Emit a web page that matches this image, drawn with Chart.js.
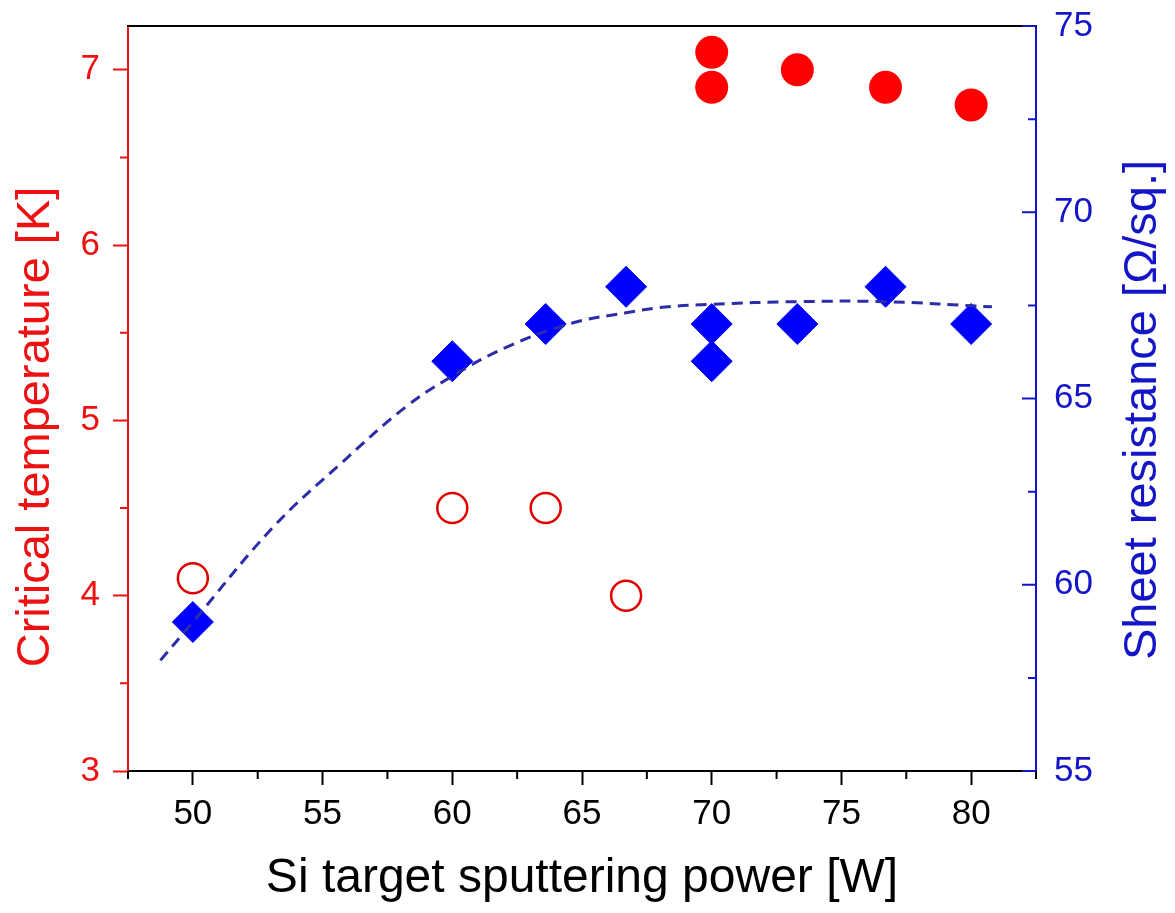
<!DOCTYPE html>
<html>
<head>
<meta charset="utf-8">
<script src="https://cdn.jsdelivr.net/npm/chart.js@4.4.1/dist/chart.umd.min.js"></script>
<style>
  html, body { margin: 0; padding: 0; background: #fff; }
  canvas { display: block; }
</style>
</head>
<body>
<canvas id="tcChart" width="1175" height="913"></canvas>
<script>
// Si target sputtering power [W]
const tcOpenPower = [50, 60, 63.6, 66.7];
const tcOpen = [4.1, 4.5, 4.5, 4.0];
const tcFilledPower = [70, 70, 73.3, 76.7, 80];
const tcFilled = [7.1, 6.9, 7.0, 6.9, 6.8];
const rsPower = [50, 60, 63.6, 66.7, 70, 70, 73.3, 76.7, 80];
const rsValues = [59, 66, 67, 68, 67, 66, 67, 68, 67];
// fit curve
const fitPower = [48.75, 50, 53.1, 55.7, 58.2, 60, 62.1, 64.6, 66.7, 68, 70, 73.3, 76.7, 80.8];
const fitValues = [57.97, 59.0, 61.55, 63.25, 64.77, 65.6, 66.38, 67.02, 67.3, 67.44, 67.53, 67.6, 67.6, 67.46];

const xTicks = [50, 55, 60, 65, 70, 75, 80];
const xMinor = [47.5, 52.5, 57.5, 62.5, 67.5, 72.5, 77.5, 82.5];
const tcTicks = [3, 4, 5, 6, 7];
const tcMinor = [3.5, 4.5, 5.5, 6.5];
const rsTicks = [55, 60, 65, 70, 75];
const rsMinor = [57.5, 62.5, 67.5, 72.5];

const RED = '#ee1111';
const BLUE = '#1515c8';
const FONT = '"Liberation Sans", Arial, sans-serif';

const pts = (xs, ys) => xs.map((x, i) => ({ x: x, y: ys[i] }));

// top border, minor ticks, inward right ticks, y titles
const frame = {
  id: 'frame',
  beforeDatasetsDraw(chart) {
    const { ctx, chartArea: a, scales } = chart;
    ctx.save();
    ctx.lineWidth = 2;

    ctx.strokeStyle = '#000';
    ctx.beginPath();
    ctx.moveTo(a.left - 1, a.top);
    ctx.lineTo(a.right + 1, a.top);
    xMinor.forEach(v => {
      const px = scales.x.getPixelForValue(v);
      ctx.moveTo(px, a.bottom);
      ctx.lineTo(px, a.bottom + 8);
    });
    ctx.stroke();

    ctx.strokeStyle = RED;
    ctx.beginPath();
    tcMinor.forEach(v => {
      const py = scales.y.getPixelForValue(v);
      ctx.moveTo(a.left, py);
      ctx.lineTo(a.left - 8, py);
    });
    ctx.stroke();

    ctx.strokeStyle = BLUE;
    ctx.beginPath();
    rsTicks.forEach(v => {
      const py = scales.y2.getPixelForValue(v);
      ctx.moveTo(a.right, py);
      ctx.lineTo(a.right - 14, py);
    });
    rsMinor.forEach(v => {
      const py = scales.y2.getPixelForValue(v);
      ctx.moveTo(a.right, py);
      ctx.lineTo(a.right - 8, py);
    });
    ctx.stroke();

    ctx.font = '47px ' + FONT;
    ctx.textAlign = 'center';
    ctx.textBaseline = 'middle';
    ctx.fillStyle = RED;
    ctx.translate(36, 427);
    ctx.rotate(-Math.PI / 2);
    ctx.fillText('Critical temperature [K]', 0, 0);
    ctx.restore();

    ctx.save();
    ctx.font = '47px ' + FONT;
    ctx.textAlign = 'center';
    ctx.textBaseline = 'middle';
    ctx.fillStyle = BLUE;
    ctx.translate(1143, 410);
    ctx.rotate(-Math.PI / 2);
    ctx.fillText('Sheet resistance [\u03A9/sq.]', 0, 0);
    ctx.restore();
  }
};

// pin axis boxes so the plot area sits where it does in the figure
const fitY = w => s => { s.width = w; s.paddingTop = 0; s.paddingBottom = 0; };

const ctx = document.getElementById('tcChart').getContext('2d');
const tcChart = new Chart(ctx, {
  type: 'scatter',
  data: {
    datasets: [
      {
        label: 'Fit',
        type: 'line',
        data: pts(fitPower, fitValues),
        yAxisID: 'y2',
        borderColor: '#2c2ca8',
        borderWidth: 3,
        borderDash: [11, 7],
        pointRadius: 0,
        tension: 0.4,
        fill: false
      },
      {
        label: 'Tc (open)',
        data: pts(tcOpenPower, tcOpen),
        yAxisID: 'y',
        pointStyle: 'circle',
        pointRadius: 15,
        pointBorderWidth: 2.5,
        borderColor: '#e00000',
        backgroundColor: 'rgba(255,255,255,0)'
      },
      {
        label: 'Tc',
        data: pts(tcFilledPower, tcFilled),
        yAxisID: 'y',
        pointStyle: 'circle',
        pointRadius: 16.5,
        pointBorderWidth: 0,
        backgroundColor: '#ff0000',
        borderColor: '#ff0000'
      },
      {
        label: 'Sheet resistance',
        data: pts(rsPower, rsValues),
        yAxisID: 'y2',
        pointStyle: 'rectRot',
        pointRadius: 20.5,
        pointBorderWidth: 1,
        backgroundColor: '#0000ff',
        borderColor: '#0000ff'
      }
    ]
  },
  options: {
    responsive: false,
    devicePixelRatio: 1,
    animation: false,
    events: [],
    layout: { padding: { top: 26, left: 0, right: 0, bottom: 0 } },
    plugins: {
      legend: { display: false },
      tooltip: { enabled: false }
    },
    scales: {
      x: {
        type: 'linear',
        position: 'bottom',
        min: 47.5,
        max: 82.5,
        afterBuildTicks: s => { s.ticks = xTicks.map(v => ({ value: v })); },
        afterFit: s => { s.height = 142; s.paddingLeft = 0; s.paddingRight = 0; },
        grid: { drawOnChartArea: false, tickLength: 14, tickWidth: 2, tickColor: '#000' },
        border: { color: '#000', width: 2 },
        ticks: { color: '#000', padding: 8, font: { family: FONT, size: 35 } },
        title: {
          display: true,
          text: 'Si target sputtering power [W]',
          color: '#000',
          padding: { top: 0, bottom: 5 },
          font: { family: FONT, size: 48 }
        }
      },
      y: {
        type: 'linear',
        position: 'left',
        min: 3,
        max: 7.25,
        afterBuildTicks: s => { s.ticks = tcTicks.map(v => ({ value: v })); },
        afterFit: fitY(128),
        grid: { drawOnChartArea: false, tickLength: 15, tickWidth: 2, tickColor: RED },
        border: { color: RED, width: 2 },
        ticks: { color: RED, padding: 13, font: { family: FONT, size: 35 } }
      },
      y2: {
        type: 'linear',
        position: 'right',
        min: 55,
        max: 75,
        afterBuildTicks: s => { s.ticks = rsTicks.map(v => ({ value: v })); },
        afterFit: fitY(139),
        grid: { drawOnChartArea: false, drawTicks: false },
        border: { color: BLUE, width: 2 },
        ticks: { color: BLUE, padding: 18, font: { family: FONT, size: 35 } }
      }
    }
  },
  plugins: [frame]
});
</script>
</body>
</html>
